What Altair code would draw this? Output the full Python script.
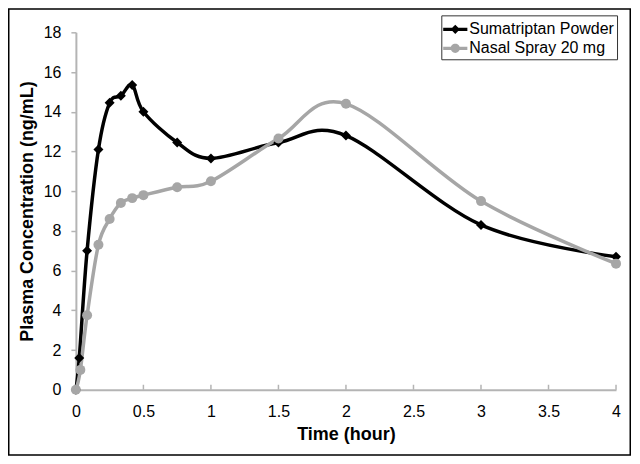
import altair as alt
import pandas as pd

# ---- data ----
series_names = ["Sumatriptan Powder", "Nasal Spray 20 mg"]

powder_time = [0, 0.025, 0.083, 0.167, 0.25, 0.333, 0.417, 0.5, 0.75, 1, 1.5, 2, 3, 4]
powder_conc = [0, 1.6, 7.0, 12.1, 14.45, 14.8, 15.35, 14.0, 12.45, 11.65, 12.45, 12.8, 8.3, 6.7]

spray_time = [0, 0.033, 0.083, 0.167, 0.25, 0.333, 0.417, 0.5, 0.75, 1, 1.5, 2, 3, 4]
spray_conc = [0, 1.0, 3.75, 7.3, 8.6, 9.4, 9.65, 9.8, 10.2, 10.5, 12.65, 14.4, 9.5, 6.35]

x_ticks = [0, 0.5, 1, 1.5, 2, 2.5, 3, 3.5, 4]
y_ticks = [0, 2, 4, 6, 8, 10, 12, 14, 16, 18]

df = pd.concat([
    pd.DataFrame({"time": powder_time, "conc": powder_conc, "series": series_names[0]}),
    pd.DataFrame({"time": spray_time, "conc": spray_conc, "series": series_names[1]}),
])

W, H = 541, 358
FONT = "Liberation Sans"
AXIS_GREY = "#b4b4b4"

x_scale = alt.Scale(domain=[0, 4], nice=False)
x_axis = alt.Axis(values=x_ticks, title="Time (hour)", ticks=False, format="~g",
                  labelFlush=False, labelPadding=14, titlePadding=6, grid=False)


def xe(field):
    return alt.X(field, scale=x_scale, axis=x_axis)


y_enc = alt.Y("conc:Q", scale=alt.Scale(domain=[0, 18], nice=False),
              axis=alt.Axis(values=y_ticks, title="Plasma Concentration (ng/mL)",
                            labelFlush=False, tickSize=5, labelPadding=10,
                            titlePadding=7, grid=False))

color_scale = alt.Scale(domain=series_names, range=["#000000", "#a6a6a6"])

base = alt.Chart(df)

lines = base.mark_line(interpolate="cardinal", strokeWidth=3.5).encode(
    x=xe("time:Q"), y=y_enc,
    color=alt.Color("series:N", scale=color_scale, legend=None),
)

points = base.mark_point(filled=True, opacity=1, size=100).encode(
    x=xe("time:Q"), y=y_enc,
    color=alt.Color("series:N", scale=color_scale, legend=None),
    shape=alt.Shape("series:N", scale=alt.Scale(domain=series_names, range=["diamond", "circle"]), legend=None),
)

# legend-only layer (invisible marks) with line+marker symbols
diamond_sym = "M-1.1,-0.15H1.1V0.15H-1.1Z M0,-0.42L0.42,0L0,0.42L-0.42,0Z"
circle_sym = "M-1.1,-0.15H1.1V0.15H-1.1Z M-0.42,0A0.42,0.42 0 1,1 0.42,0A0.42,0.42 0 1,1 -0.42,0Z"
leg = alt.Legend(title=None, orient="none", legendX=366, legendY=-17,
                 strokeColor="#333333", fillColor="white", padding=3,
                 symbolSize=484, symbolOpacity=1, symbolStrokeWidth=0,
                 labelFont=FONT, labelFontSize=16, labelColor="black",
                 labelOffset=3, rowPadding=0)
legend_layer = base.mark_point(filled=True, opacity=0).encode(
    x=xe("time:Q"), y=y_enc,
    color=alt.Color("series:N", scale=color_scale, legend=leg),
    shape=alt.Shape("series:N", scale=alt.Scale(domain=series_names, range=[diamond_sym, circle_sym]), legend=leg),
)

# inward x-axis tick marks
ticks = alt.Chart(pd.DataFrame({"time": x_ticks})).mark_rule(color=AXIS_GREY, strokeWidth=1.5).encode(
    x=xe("time:Q"),
    y=alt.value(H), y2=alt.value(H - 5),
)

# outer frame
frame = alt.Chart(pd.DataFrame({"a": [0]})).mark_rect(
    fillOpacity=0, stroke="black", strokeWidth=1.5
).encode(
    x=alt.value(-67.25), x2=alt.value(W + 14.25),
    y=alt.value(-23.25), y2=alt.value(H + 65.25),
)

chart = alt.layer(frame, ticks, lines, points, legend_layer).resolve_scale(
    color="independent", shape="independent"
).properties(
    width=W, height=H,
    autosize=alt.AutoSizeParams(type="none"),
    padding={"left": 68, "top": 24, "right": 16, "bottom": 66},
).configure_view(stroke=None).configure_axis(
    domainColor=AXIS_GREY, domainWidth=2, tickColor=AXIS_GREY, tickWidth=1.5,
    labelFont=FONT, labelFontSize=16, labelColor="black",
    titleFont=FONT, titleFontSize=18, titleFontWeight="bold", titleColor="black",
)

chart.save("out.html", embed_options={"renderer": "svg", "actions": False})
